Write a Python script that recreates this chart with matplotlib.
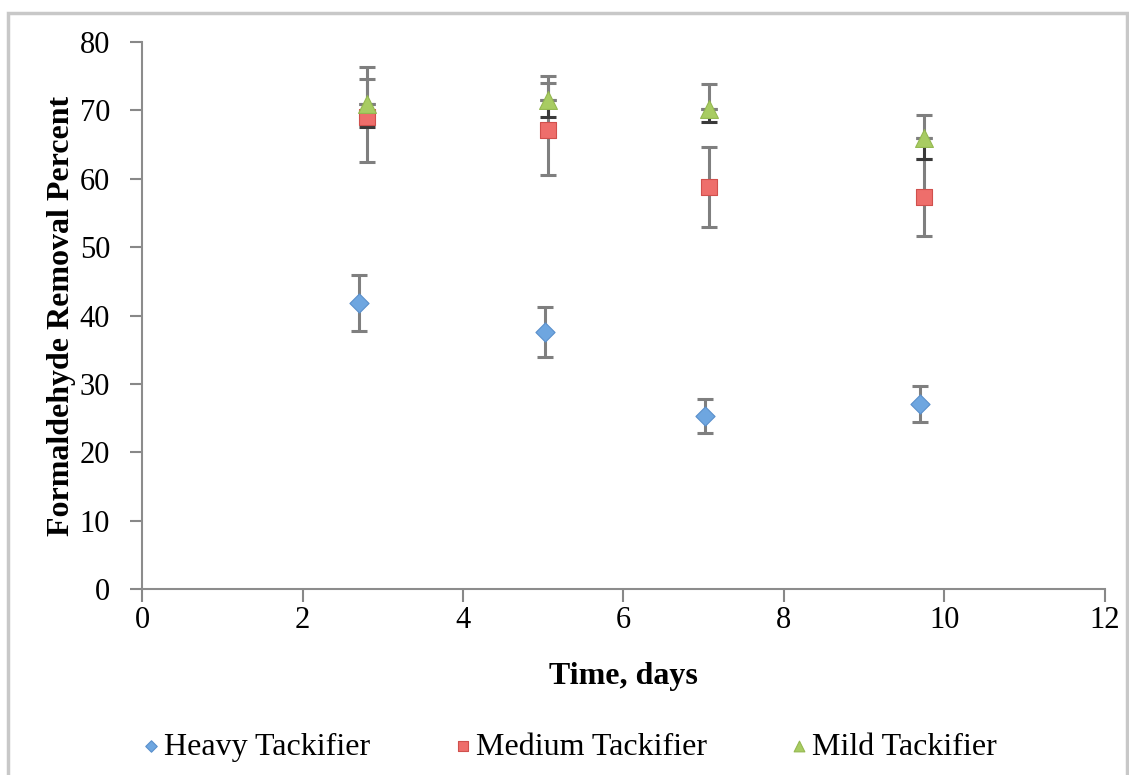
import matplotlib
matplotlib.use("Agg")
import matplotlib.pyplot as plt
from matplotlib.patches import Rectangle
import numpy as np

series_names = ["Heavy Tackifier", "Medium Tackifier", "Mild Tackifier"]

heavy_x = [2.70, 5.02, 7.01, 9.70]
heavy_y = [41.8, 37.6, 25.3, 27.1]
heavy_err_lo = [4.1, 3.7, 2.5, 2.65]
heavy_err_hi = [4.1, 3.7, 2.5, 2.65]

medium_x = [2.80, 5.06, 7.06, 9.74]
medium_y = [69.0, 67.1, 58.8, 57.3]
medium_err_lo = [6.6, 6.6, 5.9, 5.7]
medium_err_hi = [5.6, 6.9, 5.8, 5.6]

mild_x = [2.80, 5.06, 7.06, 9.74]
mild_y = [71.0, 71.5, 70.2, 66.0]
mild_err_lo = [3.5, 2.5, 1.9, 3.1]
mild_err_hi = [5.3, 3.6, 3.6, 3.3]

x_ticks = [0, 2, 4, 6, 8, 10, 12]
y_ticks = [0, 10, 20, 30, 40, 50, 60, 70, 80]
x_label = "Time, days"
y_label = "Formaldehyde Removal Percent"

plt.rcParams['font.family'] = ['Liberation Serif', 'DejaVu Serif']

fig = plt.figure(figsize=(11.29, 7.75), dpi=100)
ax = fig.add_axes([0.1258, 0.24, 0.9787 - 0.1258, 0.9458 - 0.24])

bar_grey = "#7f7f7f"
bar_dark = "#3a3a3a"

def draw_err(x, y, lo, hi, c_lo, c_hi):
    z = [0] * len(x)
    ax.errorbar(x, y, yerr=[lo, z], fmt='none', ecolor=c_lo, elinewidth=2.2,
                capsize=6, capthick=2.2, zorder=2)
    ax.errorbar(x, y, yerr=[z, hi], fmt='none', ecolor=c_hi, elinewidth=2.2,
                capsize=6, capthick=2.2, zorder=2)

draw_err(heavy_x, heavy_y, heavy_err_lo, heavy_err_hi, bar_grey, bar_grey)
draw_err(medium_x, medium_y, medium_err_lo, medium_err_hi, bar_grey, bar_grey)
draw_err(mild_x, mild_y, mild_err_lo, mild_err_hi, bar_dark, bar_grey)

h1 = ax.scatter(heavy_x, heavy_y, marker='D', s=95, color="#6ea6e0",
                edgecolors="#5a90cc", linewidths=0.8, zorder=3, label=series_names[0])
h2 = ax.scatter(medium_x, medium_y, marker='s', s=140, color="#ee6e6b",
                edgecolors="#d0504d", linewidths=0.8, zorder=3, label=series_names[1])
h3 = ax.scatter(mild_x, mild_y, marker='^', s=165, color="#a8cc62",
                edgecolors="#94b850", linewidths=0.8, zorder=4, label=series_names[2])

ax.set_xlim(0, 12)
ax.set_ylim(0, 80)
ax.set_xticks(x_ticks)
ax.set_yticks(y_ticks)
ax.tick_params(axis='both', direction='out', length=9, width=1.5, color="#888888",
               labelsize=22)
ax.tick_params(axis='y', pad=14)
ax.tick_params(axis='x', pad=3)
for s in ['top', 'right']:
    ax.spines[s].set_visible(False)
for s in ['left', 'bottom']:
    ax.spines[s].set_color("#8c8c8c")
    ax.spines[s].set_linewidth(1.5)

ax.set_xlabel(x_label, fontsize=23, fontweight='bold', labelpad=20)
ax.set_ylabel(y_label, fontsize=23, fontweight='bold', labelpad=3)

leg = fig.legend(handles=[h1, h2, h3], labels=series_names, loc='center',
                 bbox_to_anchor=(0.5, 0.036), ncol=3, frameon=False, fontsize=23,
                 handletextpad=-0.2, columnspacing=2.3, markerscale=0.6,
                 handlelength=1.2, scatterpoints=1)

fig.patches.append(Rectangle((8 / 1129, -0.05), (1127 - 8) / 1129, 1.05 - 13 / 775,
                             transform=fig.transFigure, fill=False,
                             edgecolor="#c8c8c8", linewidth=2.5, zorder=0))

fig.savefig("out.png", dpi=100)
